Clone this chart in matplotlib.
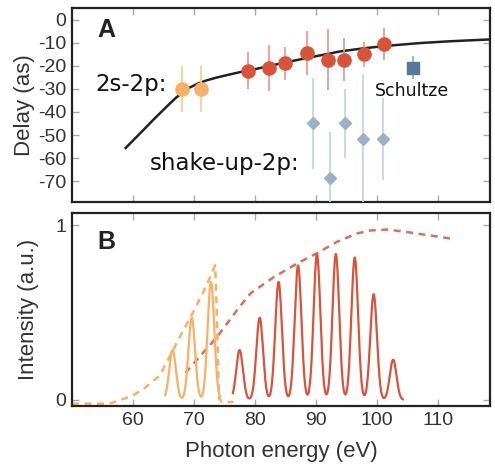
import numpy as np
import matplotlib.pyplot as plt

# ---- panel A data (delays, as) ----
e_2s_orange = [68.1, 71.2]
d_2s_orange = [-30.2, -30.0]
err_2s_orange = [10, 10]

e_2s_red = [78.8, 82.4, 84.9, 88.6, 92.0, 94.7, 97.9, 101.2]
d_2s_red = [-22.1, -20.9, -19.0, -14.5, -17.3, -17.3, -15.0, -10.7]
err_2s_red = [8, 10, 7, 9.5, 13, 9.5, 5.5, 7]

e_shake = [89.5, 92.3, 94.8, 97.8, 101.0]
d_shake = [-45.0, -68.8, -45.0, -51.6, -51.6]
err_shake = [19.5, 20, 15, 28, 17.7]

e_schultze = [105.9]
d_schultze = [-20.9]
err_schultze = [5]

curve_e = [58.8, 60.3, 61.8, 63.3, 64.8, 66.0, 67.0, 68.0, 69.2, 70.6, 72.0, 73.6, 75.5,
           77.5, 80.0, 82.5, 85.0, 87.5, 90.0, 94.0, 98.0, 102.0, 107.0, 112.0, 118.6]
curve_d = [-55.6, -51.6, -47.6, -43.5, -39.6, -36.5, -34.0, -31.8, -29.6, -27.8, -26.4, -25.2, -24.0,
           -22.8, -21.5, -20.0, -18.6, -17.2, -15.9, -13.8, -12.4, -11.3, -10.2, -9.4, -8.6]

# ---- panel B data (harmonic spectra) ----
orange_centers = [66.5, 69.65, 72.8]
orange_heights = [0.285, 0.47, 0.675]
red_centers = [77.5, 80.8, 83.9, 87.1, 90.2, 93.3, 96.4, 99.5, 102.7]
red_heights = [0.285, 0.47, 0.675, 0.77, 0.835, 0.835, 0.815, 0.605, 0.23]
peak_sigma = 0.55

orange_env_e = [50, 55, 56.5, 58, 60, 62, 64.4, 66.5, 68, 70, 72, 73.5, 73.8, 74.1, 74.6, 76.5]
orange_env_i = [-0.022, -0.022, -0.018, 0.0, 0.025, 0.07, 0.14, 0.28, 0.38, 0.51, 0.65, 0.77, 0.45, 0.01, -0.012, -0.012]
red_env_e = [68.6, 71, 73.8, 77.5, 79.3, 83, 86.9, 90.2, 93.5, 96.8, 99, 101.8, 105.1, 108, 112.1]
red_env_i = [0.154, 0.25, 0.36, 0.533, 0.61, 0.70, 0.78, 0.84, 0.905, 0.953, 0.97, 0.975, 0.96, 0.945, 0.924]

c_orange = '#F8B066'
c_orange_err = '#F8C896'
c_red = '#D9533A'
c_red_err = '#E99583'
c_blue = '#9BB1C5'
c_blue_err = '#C6D5E2'
c_square = '#587899'
c_text = '#333333'

plt.rcParams['font.family'] = ['Liberation Sans', 'DejaVu Sans']
plt.rcParams['axes.unicode_minus'] = False

fig = plt.figure(figsize=(4.95, 4.74), dpi=100)
axA = fig.add_axes([0.1455, 0.5738, 0.8444, 0.4093])
axB = fig.add_axes([0.1455, 0.1435, 0.8444, 0.4072])

# ---- panel A ----
axA.plot(curve_e, curve_d, color='#222222', lw=1.8, zorder=2)
axA.errorbar(e_2s_orange, d_2s_orange, yerr=err_2s_orange, fmt='o', ms=9.5,
             color=c_orange, ecolor=c_orange_err, elinewidth=1.2, capsize=0, zorder=3)
axA.errorbar(e_2s_red, d_2s_red, yerr=err_2s_red, fmt='o', ms=9.5,
             color=c_red, ecolor=c_red_err, elinewidth=1.2, capsize=0, zorder=3)
axA.errorbar(e_shake, d_shake, yerr=err_shake, fmt='D', ms=6,
             color=c_blue, ecolor=c_blue_err, elinewidth=1.3, capsize=0, zorder=3)
axA.errorbar(e_schultze, d_schultze, yerr=err_schultze, fmt='s', ms=8,
             color=c_square, ecolor=c_blue, elinewidth=1.3, capsize=0, zorder=3)

axA.text(53.9, -30.9, '2s-2p:', fontsize=16.5, family='DejaVu Sans', va='baseline', color='#111111')
axA.text(62.8, -65.2, 'shake-up-2p:', fontsize=16.5, family='DejaVu Sans', va='baseline', color='#111111')
axA.text(99.7, -33.2, 'Schultze', fontsize=12.5, family='DejaVu Sans', va='baseline', color='#111111')
axA.text(0.06, 0.95, 'A', transform=axA.transAxes, fontsize=18, fontweight='bold',
         va='top', color='#222222')

axA.set_xlim(50, 118.6)
axA.set_ylim(-79, 5)
axA.set_yticks(np.arange(-70, 1, 10))
axA.set_xticks([60, 70, 80, 90, 100, 110])
axA.set_xticklabels([])
axA.set_ylabel('Delay (as)', fontsize=16, color=c_text, labelpad=2)

# ---- panel B ----
grid_o = np.linspace(65.3, 74.3, 400)
spec_o = sum(h * np.exp(-(grid_o - c) ** 2 / (2 * peak_sigma ** 2))
             for c, h in zip(orange_centers, orange_heights))
grid_r = np.linspace(76.4, 104.3, 1200)
spec_r = sum(h * np.exp(-(grid_r - c) ** 2 / (2 * peak_sigma ** 2))
             for c, h in zip(red_centers, red_heights))

axB.plot(red_env_e, red_env_i, color=c_red, lw=1.8, ls=(0, (2.8, 2.2)), alpha=0.85, zorder=2)
axB.plot(orange_env_e, orange_env_i, color=c_orange, lw=1.8, ls=(0, (2.8, 2.2)), zorder=2)
axB.plot(grid_o, spec_o, color=c_orange, lw=1.6, zorder=3)
axB.plot(grid_r, spec_r, color=c_red, lw=1.6, zorder=3)

axB.text(0.06, 0.91, 'B', transform=axB.transAxes, fontsize=18, fontweight='bold',
         va='top', color='#222222')

axB.set_xlim(50, 118.6)
axB.set_ylim(-0.035, 1.07)
axB.set_yticks([0, 1])
axB.set_xticks([60, 70, 80, 90, 100, 110])
axB.set_ylabel('Intensity (a.u.)', fontsize=16, color=c_text, labelpad=12)
axB.set_xlabel('Photon energy (eV)', fontsize=16, color=c_text, labelpad=9)

for ax in (axA, axB):
    ax.tick_params(direction='in', length=5, width=1, color='#AAAAAA',
                   top=True, right=True, labelsize=14, labelcolor=c_text, pad=4)
    for s in ax.spines.values():
        s.set_linewidth(1.6)
        s.set_color('#222222')

fig.savefig('out.png', dpi=100)
